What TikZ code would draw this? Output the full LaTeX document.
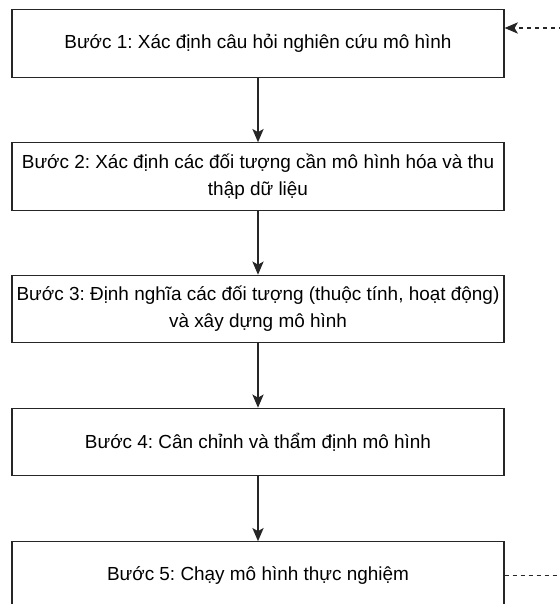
\documentclass[tikz,border=0pt]{standalone}
\usepackage{fontspec}
\setmainfont{Liberation Sans}
\usetikzlibrary{arrows.meta}
\frenchspacing
\begin{document}
\begin{tikzpicture}[x=0.75pt,y=-0.75pt,
  stepbox/.style={draw=black!85, line width=0.9pt, fill=white, minimum width=369pt, minimum height=50.5pt,
    inner sep=0pt, align=center, font=\fontsize{14.2}{20}\selectfont},
  flow/.style={draw=black!85, line width=0.9pt, -{Stealth[length=10pt,width=8.5pt,inset=2.5pt]}},
  loop/.style={draw=black!85, line width=0.9pt, dash pattern=on 3pt off 3pt, -{Stealth[length=10pt,width=8.5pt,inset=2.5pt]}}]
\useasboundingbox (0,0) rectangle (560,604);
\clip (0,0) rectangle (560,604);
\node[stepbox] (b1) at (258,43.5) {Bước 1: Xác định câu hỏi nghiên cứu mô hình};
\node[stepbox] (b2) at (258,176.5) {Bước 2: Xác định các đối tượng cần mô hình hóa và thu\\thập dữ liệu};
\node[stepbox] (b3) at (258,309) {Bước 3: Định nghĩa các đối tượng (thuộc tính, hoạt động)\\và xây dựng mô hình};
\node[stepbox] (b4) at (258,442) {Bước 4: Cân chỉnh và thẩm định mô hình};
\node[stepbox] (b5) at (258,575.5) {Bước 5: Chạy mô hình thực nghiệm};
\draw[flow] (b1) -- (b2);
\draw[flow] (b2) -- (b3);
\draw[flow] (b3) -- (b4);
\draw[flow] (b4) -- (b5);
\coordinate (out) at (b5.east);
\coordinate (in) at (b1.east |- 0,28);
\coordinate (far) at (600,0);
\draw[loop] (out) -- (out -| far) -- (in -| far) -- (in);
\end{tikzpicture}
\end{document}
